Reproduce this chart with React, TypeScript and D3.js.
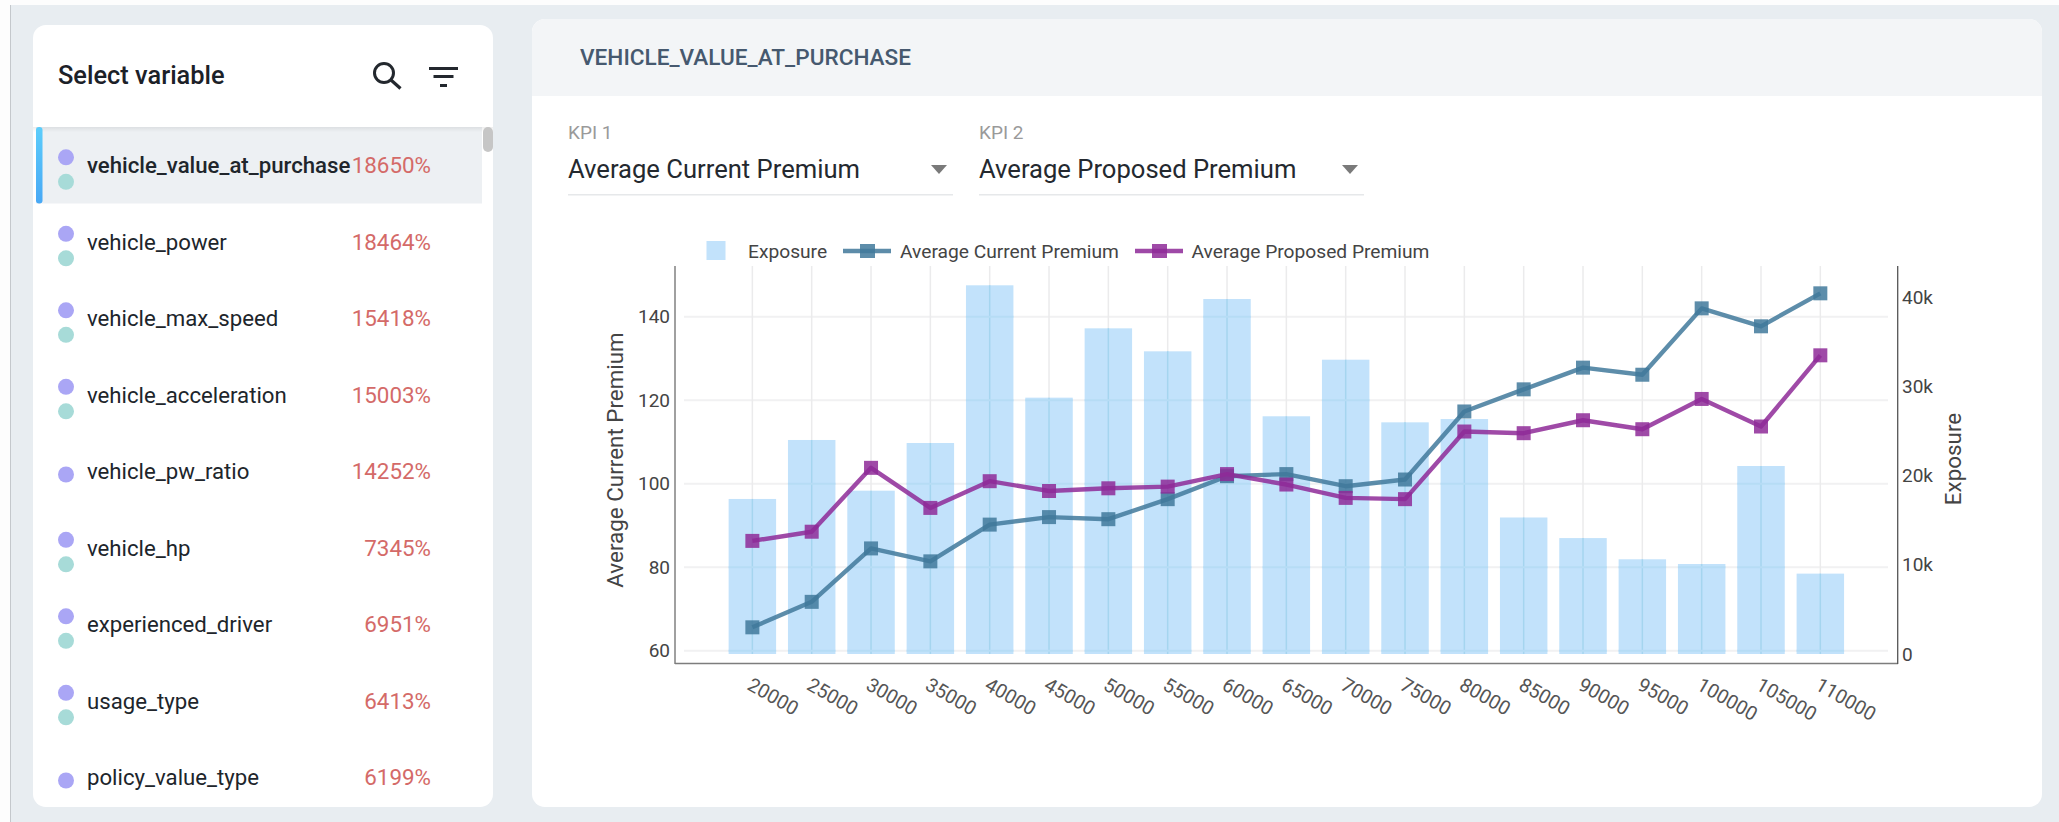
import React from "react";
import * as d3 from "d3";

const categories = ["20000","25000","30000","35000","40000","45000","50000","55000","60000","65000","70000","75000","80000","85000","90000","95000","100000","105000","110000"];
const exposure = [17400,24020,18330,23680,41380,28770,36550,33970,39840,26680,33030,26000,26370,15320,13010,10630,10100,21100,9020];
const currentPremium = [65.6,71.7,84.5,81.4,90.2,92.0,91.5,96.3,101.8,102.3,99.4,101.0,117.3,122.6,127.8,126.1,142.0,137.7,145.6];
const proposedPremium = [86.3,88.5,103.8,94.2,100.6,98.25,98.9,99.3,102.3,99.8,96.6,96.3,112.5,112.1,115.2,113.05,120.3,113.7,130.75];
const leftTicks = [60,80,100,120,140];
const rightTicks = [0,10000,20000,30000,40000];

const variableNames = ["vehicle_value_at_purchase","vehicle_power","vehicle_max_speed","vehicle_acceleration","vehicle_pw_ratio","vehicle_hp","experienced_driver","usage_type","policy_value_type"];
const variableScores = ["18650%","18464%","15418%","15003%","14252%","7345%","6951%","6413%","6199%"];
const variableHasTwoDots = [true,true,true,true,false,true,true,true,false];

const FONT = "Roboto, sans-serif";
const BLUE = "#41799b";
const PURPLE = "#8e2a98";

const x = d3.scaleBand<string>().domain(categories).range([722.7, 1850]).paddingInner(0.2).paddingOuter(0.1);
const yLeft = d3.scaleLinear().domain([60, 140]).range([650.7, 316.7]);
const yRight = d3.scaleLinear().domain([0, 40000]).range([654, 297.6]);
const cx = (c: string) => x(c)! + x.bandwidth() / 2;

const lineGen = (vals: number[]) =>
  d3.line<string>().x(cx).y((_, i) => yLeft(vals[i]))(categories) as string;

const expFmt = (v: number) => (v === 0 ? "0" : `${v / 1000}k`);
const MARK = 14;

function Series({ vals, color }: { vals: number[]; color: string }) {
  return (
    <g>
      <path d={lineGen(vals)} fill="none" stroke={color} strokeWidth={4.4} strokeLinejoin="round" opacity={0.85} />
      {categories.map((c, i) => (
        <rect key={c} x={cx(c) - MARK / 2} y={yLeft(vals[i]) - MARK / 2} width={MARK} height={MARK} fill={color} opacity={0.85} />
      ))}
    </g>
  );
}

function LegendLine({ x0, color, label, textX }: { x0: number; color: string; label: string; textX: number }) {
  return (
    <g>
      <line x1={x0} x2={x0 + 48} y1={251} y2={251} stroke={color} strokeWidth={4.4} opacity={0.85} />
      <rect x={x0 + 17} y={244} width={15} height={14} fill={color} opacity={0.85} />
      <text x={textX} y={251} dominantBaseline="central" fontSize={19.2} fill="#444">{label}</text>
    </g>
  );
}

export default function App() {
  return (
    <svg width={2059} height={822} viewBox="0 0 2059 822" style={{ position: "fixed", left: 0, top: 0, fontFamily: FONT }}>
      <defs>
        <linearGradient id="acc" x1="0" x2="0" y1="0" y2="1">
          <stop offset="0" stopColor="#5ccdfb" />
          <stop offset="1" stopColor="#48a8f5" />
        </linearGradient>
        <linearGradient id="hs" x1="0" x2="0" y1="0" y2="1">
          <stop offset="0" stopColor="#000" stopOpacity="0.07" />
          <stop offset="1" stopColor="#000" stopOpacity="0" />
        </linearGradient>
        <clipPath id="leftCard"><rect x={33} y={25} width={460} height={782} rx={13} /></clipPath>
        <clipPath id="rightCard"><rect x={532} y={19} width={1510} height={788} rx={13} /></clipPath>
      </defs>

      <rect width={2059} height={822} fill="#fdfdfd" />
      <rect x={10} y={5} width={2049} height={817} fill="#e8edf1" />
      <rect x={10} y={5} width={1} height={817} fill="#c4c8cc" />

      {/* left panel */}
      <rect x={33} y={25} width={460} height={782} rx={13} fill="#ffffff" />
      <g clipPath="url(#leftCard)">
        <rect x={36} y={127} width={446} height={76.5} fill="#edf0f3" />
        <rect x={33} y={127} width={460} height={5} fill="url(#hs)" />
        <rect x={36} y={127} width={6.5} height={76.5} rx={3} fill="url(#acc)" />
        <rect x={483} y={127} width={10} height={25} rx={5} fill="#c6c6c6" />
      </g>
      <text x={58} y={75} dominantBaseline="central" fontSize={25.4} fontWeight={500} fill="#1c2128">Select variable</text>
      <circle cx={384} cy={73} r={9.5} fill="none" stroke="#23282e" strokeWidth={3} />
      <line x1={391} y1={80} x2={400.5} y2={88.5} stroke="#23282e" strokeWidth={3.2} />
      <rect x={429} y={67} width={29} height={3} fill="#23282e" />
      <rect x={433.5} y={75} width={20} height={3} fill="#23282e" />
      <rect x={440} y={84} width={7} height={3} fill="#23282e" />

      {variableNames.map((name, i) => {
        const cy = 165 + i * 76.5;
        return (
          <g key={name}>
            {variableHasTwoDots[i] ? (
              <>
                <circle cx={66} cy={cy - 7.7} r={8} fill="#aaa6f5" />
                <circle cx={66} cy={cy + 16.8} r={8} fill="#a7dbd8" />
              </>
            ) : (
              <circle cx={66} cy={cy + 3.5} r={8} fill="#aaa6f5" />
            )}
            <text x={87} y={cy} dominantBaseline="central" fontSize={22.2} fontWeight={i === 0 ? 500 : 400} fill="#20252b">{name}</text>
            <text x={431} y={cy} dominantBaseline="central" textAnchor="end" fontSize={22.4} fill="#d46a68">{variableScores[i]}</text>
          </g>
        );
      })}

      {/* right panel */}
      <rect x={532} y={19} width={1510} height={788} rx={13} fill="#ffffff" />
      <g clipPath="url(#rightCard)">
        <rect x={532} y={19} width={1510} height={77} fill="#f3f5f7" />
      </g>
      <text x={580} y={57} dominantBaseline="central" fontSize={22.6} fontWeight={500} fill="#46596f">VEHICLE_VALUE_AT_PURCHASE</text>

      <text x={568} y={132} dominantBaseline="central" fontSize={19} fill="#9a9a9a">KPI 1</text>
      <text x={568} y={169} dominantBaseline="central" fontSize={25.6} fill="#24292f">Average Current Premium</text>
      <path d="M931 165 H947 L939 174 Z" fill="#7a7a7a" />
      <rect x={568} y={194} width={385} height={1.5} fill="#e6e8ea" />
      <text x={979} y={132} dominantBaseline="central" fontSize={19} fill="#9a9a9a">KPI 2</text>
      <text x={979} y={169} dominantBaseline="central" fontSize={25.6} fill="#24292f">Average Proposed Premium</text>
      <path d="M1342 165 H1358 L1350 174 Z" fill="#7a7a7a" />
      <rect x={979} y={194} width={385} height={1.5} fill="#e6e8ea" />

      {/* legend */}
      <rect x={706.5} y={241} width={19} height={19} fill="#c2e2fb" />
      <text x={748} y={251} dominantBaseline="central" fontSize={19.2} fill="#444">Exposure</text>
      <LegendLine x0={843} color={BLUE} label="Average Current Premium" textX={900} />
      <LegendLine x0={1135} color={PURPLE} label="Average Proposed Premium" textX={1191.5} />

      {/* grid */}
      {leftTicks.map((t) => (
        <line key={t} x1={684} x2={1888} y1={yLeft(t)} y2={yLeft(t)} stroke="#f1f1f2" strokeWidth={2} />
      ))}
      {categories.map((c) => (
        <line key={c} x1={cx(c)} x2={cx(c)} y1={266} y2={654} stroke="#ebebec" strokeWidth={1.5} />
      ))}

      {/* bars */}
      {categories.map((c, i) => (
        <g key={c}>
          <rect x={x(c)} y={yRight(exposure[i])} width={x.bandwidth()} height={yRight(0) - yRight(exposure[i])} fill="#c2e2fb" />
          <line x1={cx(c)} x2={cx(c)} y1={yRight(exposure[i])} y2={654} stroke="#a5d5ef" strokeWidth={1.5} />
          {leftTicks.filter((t) => yLeft(t) > yRight(exposure[i])).map((t) => (
            <line key={t} x1={x(c)} x2={x(c)! + x.bandwidth()} y1={yLeft(t)} y2={yLeft(t)} stroke="#b6dcf5" strokeWidth={2} />
          ))}
        </g>
      ))}

      {/* axes */}
      <line x1={675} x2={675} y1={266} y2={664} stroke="#6d6d6d" strokeWidth={1.3} />
      <line x1={675} x2={1898} y1={663.5} y2={663.5} stroke="#7d7d7d" strokeWidth={1.3} />
      <line x1={1897.7} x2={1897.7} y1={266} y2={664} stroke="#555" strokeWidth={1.3} />

      <Series vals={currentPremium} color={BLUE} />
      <Series vals={proposedPremium} color={PURPLE} />

      {leftTicks.map((t) => (
        <text key={t} x={670} y={yLeft(t)} dominantBaseline="central" textAnchor="end" fontSize={19} fill="#444">{t}</text>
      ))}
      {rightTicks.map((t) => (
        <text key={t} x={1902} y={yRight(t)} dominantBaseline="central" fontSize={19} fill="#444">{expFmt(t)}</text>
      ))}
      {categories.map((c) => (
        <text key={c} transform={`translate(${cx(c) - 3},${683}) rotate(30)`} dominantBaseline="central" fontSize={19.5} fill="#555">{c}</text>
      ))}
      <text transform="translate(615,460) rotate(-90)" textAnchor="middle" dominantBaseline="central" fontSize={22.4} fill="#444">Average Current Premium</text>
      <text transform="translate(1953,459) rotate(-90)" textAnchor="middle" dominantBaseline="central" fontSize={22.4} fill="#444">Exposure</text>
    </svg>
  );
}
